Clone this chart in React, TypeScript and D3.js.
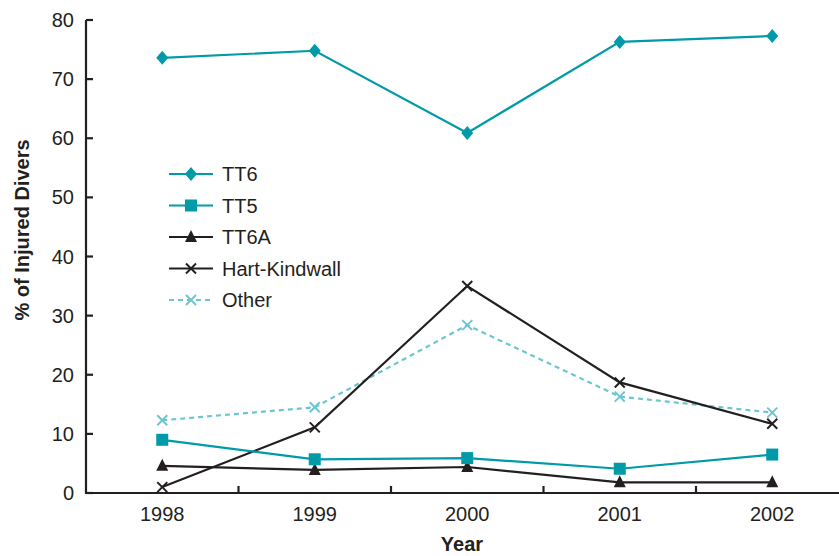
import { useEffect, useRef } from "react";
import * as d3 from "d3";

const years = ["1998", "1999", "2000", "2001", "2002"];
const yTicks = [0, 10, 20, 30, 40, 50, 60, 70, 80];

const tt6 = [73.6, 74.8, 60.9, 76.3, 77.3];
const tt5 = [9.0, 5.7, 5.9, 4.1, 6.5];
const tt6a = [4.6, 3.9, 4.4, 1.8, 1.8];
const hartKindwall = [1.0, 11.1, 35.0, 18.7, 11.7];
const other = [12.3, 14.5, 28.4, 16.3, 13.6];

const TEAL = "#009aa8";
const LIGHT = "#6cc6d0";
const INK = "#231f20";

type Series = {
  name: string;
  values: number[];
  color: string;
  marker: "diamond" | "square" | "triangle" | "x";
  dashed?: boolean;
};

const series: Series[] = [
  { name: "TT6", values: tt6, color: TEAL, marker: "diamond" },
  { name: "TT5", values: tt5, color: TEAL, marker: "square" },
  { name: "TT6A", values: tt6a, color: INK, marker: "triangle" },
  { name: "Hart-Kindwall", values: hartKindwall, color: INK, marker: "x" },
  { name: "Other", values: other, color: LIGHT, marker: "x", dashed: true },
];

function drawMarker(g: d3.Selection<SVGGElement, unknown, null, undefined>, s: Series, cx: number, cy: number) {
  if (s.marker === "diamond") {
    g.append("path")
      .attr("d", `M${cx},${cy - 7}L${cx + 6},${cy}L${cx},${cy + 7}L${cx - 6},${cy}Z`)
      .attr("fill", s.color);
  } else if (s.marker === "square") {
    g.append("rect")
      .attr("x", cx - 6).attr("y", cy - 6)
      .attr("width", 12).attr("height", 12)
      .attr("fill", s.color);
  } else if (s.marker === "triangle") {
    g.append("path")
      .attr("d", `M${cx},${cy - 7}L${cx + 6},${cy + 5}L${cx - 6},${cy + 5}Z`)
      .attr("fill", s.color);
  } else {
    g.append("path")
      .attr("d", `M${cx - 5},${cy - 5}L${cx + 5},${cy + 5}M${cx - 5},${cy + 5}L${cx + 5},${cy - 5}`)
      .attr("stroke", s.color)
      .attr("stroke-width", 2)
      .attr("fill", "none");
  }
}

export default function App() {
  const svgRef = useRef<SVGSVGElement | null>(null);

  useEffect(() => {
    if (!svgRef.current) return;
    const width = 839;
    const svg = d3.select(svgRef.current);
    svg.selectAll("*").remove();

    const left = 86;
    const x = d3.scaleBand<string>().domain(years).range([left, left + 5 * 152.5]).padding(0);
    const cx = (yr: string) => x(yr)! + x.bandwidth() / 2;
    const y = d3.scaleLinear().domain([0, 80]).range([493, 20]);

    const font = "'Liberation Sans', Arial, Helvetica, sans-serif";

    // axes
    const axes = svg.append("g").attr("stroke", INK).attr("stroke-width", 2.2);
    axes.append("line").attr("x1", left).attr("x2", left).attr("y1", y(80)).attr("y2", y(0) + 1);
    axes.append("line").attr("x1", left - 1).attr("x2", width).attr("y1", y(0)).attr("y2", y(0));
    yTicks.forEach(t => {
      axes.append("line").attr("x1", left).attr("x2", left + 7).attr("y1", y(t)).attr("y2", y(t));
    });
    years.slice(1).forEach(yr => {
      axes.append("line").attr("x1", x(yr)!).attr("x2", x(yr)!).attr("y1", y(0)).attr("y2", y(0) - 7);
    });

    svg.append("g")
      .selectAll("text")
      .data(yTicks)
      .enter()
      .append("text")
      .attr("x", 74)
      .attr("y", d => y(d) + 7)
      .attr("text-anchor", "end")
      .attr("font-family", font)
      .attr("font-size", 20)
      .attr("fill", INK)
      .text(d => String(d));

    svg.append("g")
      .selectAll("text")
      .data(years)
      .enter()
      .append("text")
      .attr("x", d => cx(d))
      .attr("y", 521)
      .attr("text-anchor", "middle")
      .attr("font-family", font)
      .attr("font-size", 20)
      .attr("fill", INK)
      .text(d => d);

    svg.append("text")
      .attr("transform", `translate(28.5,230) rotate(-90)`)
      .attr("text-anchor", "middle")
      .attr("font-family", font)
      .attr("font-size", 20)
      .attr("font-weight", 700)
      .attr("fill", INK)
      .text("% of Injured Divers");

    svg.append("text")
      .attr("x", 462)
      .attr("y", 551)
      .attr("text-anchor", "middle")
      .attr("font-family", font)
      .attr("font-size", 20)
      .attr("font-weight", 700)
      .attr("fill", INK)
      .text("Year");

    // series
    const line = d3.line<number>().x((_, i) => cx(years[i])).y(d => y(d));
    const drawOrder = [series[4], series[3], series[2], series[1], series[0]];
    drawOrder.forEach(s => {
      const g = svg.append("g");
      g.append("path")
        .attr("d", line(s.values))
        .attr("fill", "none")
        .attr("stroke", s.color)
        .attr("stroke-width", 2.2)
        .attr("stroke-dasharray", s.dashed ? "5,4" : null);
      s.values.forEach((v, i) => drawMarker(g, s, cx(years[i]), y(v)));
    });

    // legend
    const legendY = [174, 205.5, 237, 268.5, 300];
    series.forEach((s, i) => {
      const g = svg.append("g");
      const ly = legendY[i];
      g.append("line")
        .attr("x1", 169).attr("x2", 213)
        .attr("y1", ly).attr("y2", ly)
        .attr("stroke", s.color)
        .attr("stroke-width", 2.2)
        .attr("stroke-dasharray", s.dashed ? "5,4" : null);
      drawMarker(g, s, 191, ly);
      g.append("text")
        .attr("x", 222)
        .attr("y", ly + 7)
        .attr("font-family", font)
        .attr("font-size", 20)
        .attr("fill", INK)
        .text(s.name);
    });
  }, []);

  return (
    <svg
      ref={svgRef}
      width={839}
      height={556}
      style={{ position: "absolute", left: 0, top: 0, background: "#fff" }}
    />
  );
}
